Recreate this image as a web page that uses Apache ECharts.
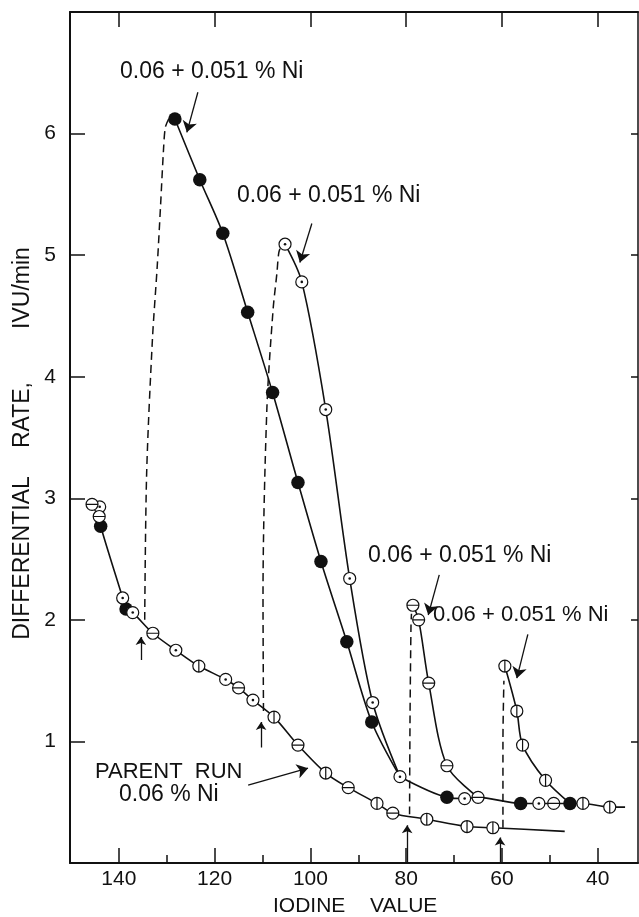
<!DOCTYPE html>
<html><head><meta charset="utf-8">
<script src="https://cdn.jsdelivr.net/npm/echarts@6/dist/echarts.min.js"></script>
<style>html,body{margin:0;padding:0;background:#fff}#c{width:639px;height:917px}</style>
</head><body><div id="c"></div>
<script>
// ---------- DATA ----------
const xTicks = [40, 60, 80, 100, 120, 140];
const xMinorTicks = [50, 70, 90, 110, 130];
const yTicks = [1, 2, 3, 4, 5, 6];

// marker codes: b = filled circle, d = circle with dot, h = circle with horizontal bar,
// v = circle with vertical bar, n = no marker (shared point / curve end)
const parentIodine = [145.6, 144.0, 144.1, 143.8, 139.2, 138.5, 137.1, 132.9, 128.1, 123.3, 117.7, 115.0, 112.0, 107.6, 102.6, 96.8, 92.1, 86.1, 82.8, 75.7, 67.3, 61.9, 46.9];
const parentRate   = [2.95, 2.93, 2.85, 2.77, 2.18, 2.09, 2.06, 1.89, 1.75, 1.62, 1.51, 1.44, 1.34, 1.20, 0.97, 0.74, 0.62, 0.49, 0.41, 0.36, 0.30, 0.29, 0.26];
const parentMark   = ['h', 'd', 'h', 'b', 'd', 'b', 'd', 'h', 'd', 'v', 'd', 'h', 'd', 'v', 'h', 'v', 'h', 'v', 'h', 'v', 'v', 'v', 'n'];

const add1Iodine = [128.3, 123.1, 118.3, 113.1, 107.9, 102.6, 97.8, 92.4, 87.2, 81.3];
const add1Rate   = [6.12, 5.62, 5.18, 4.53, 3.87, 3.13, 2.48, 1.82, 1.16, 0.71];
const add1Mark   = ['b', 'b', 'b', 'b', 'b', 'b', 'b', 'b', 'b', 'n'];

const add2Iodine = [105.3, 101.8, 96.8, 91.8, 87.0, 81.3];
const add2Rate   = [5.09, 4.78, 3.73, 2.34, 1.32, 0.71];
const add2Mark   = ['d', 'd', 'd', 'd', 'd', 'n'];

const add3Iodine = [78.6, 77.4, 75.3, 71.5, 65.0];
const add3Rate   = [2.12, 2.00, 1.48, 0.80, 0.54];
const add3Mark   = ['h', 'h', 'h', 'h', 'n'];

const add4Iodine = [59.4, 56.9, 55.7, 50.9, 45.8];
const add4Rate   = [1.62, 1.25, 0.97, 0.68, 0.49];
const add4Mark   = ['v', 'v', 'v', 'v', 'n'];

const tailIodine = [81.3, 71.5, 67.8, 65.0, 56.1, 52.3, 49.2, 45.8, 43.1, 37.5, 34.3];
const tailRate   = [0.71, 0.54, 0.53, 0.54, 0.49, 0.49, 0.49, 0.49, 0.49, 0.46, 0.46];
const tailMark   = ['d', 'b', 'd', 'h', 'b', 'd', 'h', 'b', 'v', 'v', 'n'];

// dashed jumps at each nickel addition
const drop1Iodine = [134.6, 134.2, 133.0, 132.0, 131.3, 130.7, 130.3, 129.6];
const drop1Rate   = [2.00, 3.20, 4.30, 4.90, 5.40, 5.85, 6.05, 6.12];
const drop2Iodine = [109.8, 109.9, 109.1, 107.8, 107.0, 106.6, 106.0];
const drop2Rate   = [1.25, 2.20, 3.73, 4.55, 4.85, 5.02, 5.09];
const drop3Iodine = [79.3, 79.2, 79.0, 78.9];
const drop3Rate   = [0.40, 1.20, 1.95, 2.05];
const drop4Iodine = [59.8, 59.8, 59.6];
const drop4Rate   = [0.29, 1.00, 1.50];

// up arrows marking the addition points
const upArrowIodine = [135.4, 110.3, 79.8, 60.4];
const upArrowFrom   = [1.67, 0.95, 0.0, 0.0];
const upArrowTo     = [1.86, 1.16, 0.31, 0.21];

// annotation pointer arrows (from label toward curve)
const noteFromIodine = [123.5, 99.7, 73.1, 54.6, 113.0];
const noteFromRate   = [6.34, 5.26, 2.37, 1.88, 0.64];
const noteToIodine   = [125.8, 102.2, 75.4, 56.9, 100.5];
const noteToRate     = [6.01, 4.94, 2.04, 1.52, 0.78];

// ---------- CHART ----------
const INK = '#111';
const FONT = '"Liberation Sans", Arial, sans-serif';
const pts = (xs, ys) => xs.map((x, i) => [x, ys[i]]);

const curves = [
  {x: parentIodine, y: parentRate, m: parentMark},
  {x: add1Iodine, y: add1Rate, m: add1Mark},
  {x: add2Iodine, y: add2Rate, m: add2Mark},
  {x: add3Iodine, y: add3Rate, m: add3Mark},
  {x: add4Iodine, y: add4Rate, m: add4Mark},
  {x: tailIodine, y: tailRate, m: tailMark}
];
function marks(type) {
  const out = [];
  curves.forEach(c => c.x.forEach((x, i) => { if (c.m[i] === type) out.push([x, c.y[i]]); }));
  return out;
}
const drops = [[drop1Iodine, drop1Rate], [drop2Iodine, drop2Rate], [drop3Iodine, drop3Rate], [drop4Iodine, drop4Rate]];

const RING = 'M-10,0A10,10,0,1,1,10,0A10,10,0,1,1,-10,0Z';
const ringStyle = {color: '#fff', borderColor: INK, borderWidth: 1.2, opacity: 1};

const series = [];
curves.forEach(c => series.push({
  type: 'line', data: pts(c.x, c.y), smooth: 0.3, showSymbol: false, symbol: 'none',
  lineStyle: {color: INK, width: 1.6}, z: 2, silent: true, animation: false
}));
drops.forEach(d => series.push({
  type: 'line', data: pts(d[0], d[1]), smooth: 0.3, showSymbol: false, symbol: 'none',
  lineStyle: {color: INK, width: 1.5, type: [8, 5]}, z: 2, silent: true, animation: false
}));
series.push({
  type: 'lines', coordinateSystem: 'cartesian2d', silent: true, animation: false,
  symbol: ['none', 'arrow'], symbolSize: 8, lineStyle: {color: INK, width: 1.3, opacity: 1},
  data: upArrowIodine.map((x, i) => ({coords: [[x, upArrowFrom[i]], [x, upArrowTo[i]]]}))
});
series.push({
  type: 'lines', coordinateSystem: 'cartesian2d', silent: true, animation: false,
  symbol: ['none', 'arrow'], symbolSize: 11, lineStyle: {color: INK, width: 1.3, opacity: 1},
  data: noteFromIodine.map((x, i) => ({coords: [[x, noteFromRate[i]], [noteToIodine[i], noteToRate[i]]]}))
});
series.push({type: 'scatter', data: marks('b'), symbol: 'circle', symbolSize: 13.5, itemStyle: {color: INK, opacity: 1}, z: 3, silent: true, animation: false});
series.push({type: 'scatter', data: marks('d'), symbol: 'path://' + RING, symbolSize: 12, itemStyle: ringStyle, z: 3, silent: true, animation: false});
series.push({type: 'scatter', data: marks('d'), symbol: 'circle', symbolSize: 2.6, itemStyle: {color: INK, opacity: 1}, z: 4, silent: true, animation: false});
series.push({type: 'scatter', data: marks('h'), symbol: 'path://' + RING + 'M-10,0L10,0', symbolSize: 12, itemStyle: ringStyle, z: 3, silent: true, animation: false});
series.push({type: 'scatter', data: marks('v'), symbol: 'path://' + RING + 'M0,-10L0,10', symbolSize: 12, itemStyle: ringStyle, z: 3, silent: true, animation: false});

const xRange = {type: 'value', inverse: true, min: 31.6, max: 150.2, splitLine: {show: false}};
const option = {
  backgroundColor: '#fff',
  animation: false,
  grid: {left: 70, right: 1, top: 12, bottom: 54},
  xAxis: [
    Object.assign({}, xRange, {
      position: 'bottom',
      axisLine: {show: true, onZero: false, lineStyle: {color: INK, width: 2}},
      axisTick: {show: true, inside: true, length: 15, customValues: xTicks, lineStyle: {color: INK, width: 1.5}},
      axisLabel: {show: true, customValues: xTicks, margin: 6, fontSize: 21, color: INK, fontFamily: FONT}
    }),
    Object.assign({}, xRange, {
      position: 'bottom',
      axisLine: {show: false, onZero: false},
      axisTick: {show: true, inside: true, length: 8, customValues: xMinorTicks, lineStyle: {color: INK, width: 1.5}},
      axisLabel: {show: false}
    }),
    Object.assign({}, xRange, {
      position: 'top',
      axisLine: {show: true, onZero: false, lineStyle: {color: INK, width: 2}},
      axisTick: {show: true, inside: true, length: 15, customValues: xTicks, lineStyle: {color: INK, width: 1.5}},
      axisLabel: {show: false}
    })
  ],
  yAxis: [
    {type: 'value', position: 'left', min: 0, max: 7, splitLine: {show: false},
     axisLine: {show: true, onZero: false, lineStyle: {color: INK, width: 2}},
     axisTick: {show: true, inside: true, length: 15, customValues: yTicks, lineStyle: {color: INK, width: 1.5}},
     axisLabel: {show: true, customValues: yTicks, margin: 14, fontSize: 21, color: INK, fontFamily: FONT}},
    {type: 'value', position: 'right', min: 0, max: 7, splitLine: {show: false},
     axisLine: {show: true, onZero: false, lineStyle: {color: INK, width: 1.5}},
     axisTick: {show: true, inside: true, length: 7, customValues: yTicks, lineStyle: {color: INK, width: 1.5}},
     axisLabel: {show: false}}
  ],
  graphic: [
    txt('0.06 + 0.051 % Ni', 120, 71.5, 23),
    txt('0.06 + 0.051 % Ni', 237, 196, 23),
    txt('0.06 + 0.051 % Ni', 368, 556, 23),
    txt('0.06 + 0.051 % Ni', 433, 615, 22),
    txt('PARENT  RUN', 95, 771.5, 22),
    txt('0.06 % Ni', 119, 794.5, 23),
    txt('IODINE', 273, 906, 21),
    txt('VALUE', 370, 906, 21),
    rot('DIFFERENTIAL', 23, 558, 23),
    rot('RATE,', 23, 415, 23),
    rot('IVU/min', 23, 288, 23)
  ],
  series: series
};
function txt(t, x, y, fs) {
  return {type: 'text', x: x, y: y, silent: true, z: 10,
    style: {text: t, fill: INK, font: fs + 'px ' + FONT, textAlign: 'left', textVerticalAlign: 'middle'}};
}
function rot(t, x, y, fs) {
  return {type: 'text', x: x, y: y, rotation: Math.PI / 2, silent: true, z: 10,
    style: {text: t, fill: INK, font: fs + 'px ' + FONT, textAlign: 'center', textVerticalAlign: 'middle'}};
}
const chart = echarts.init(document.getElementById('c'), null, {renderer: 'canvas'});
chart.setOption(option);
</script>
</body></html>
